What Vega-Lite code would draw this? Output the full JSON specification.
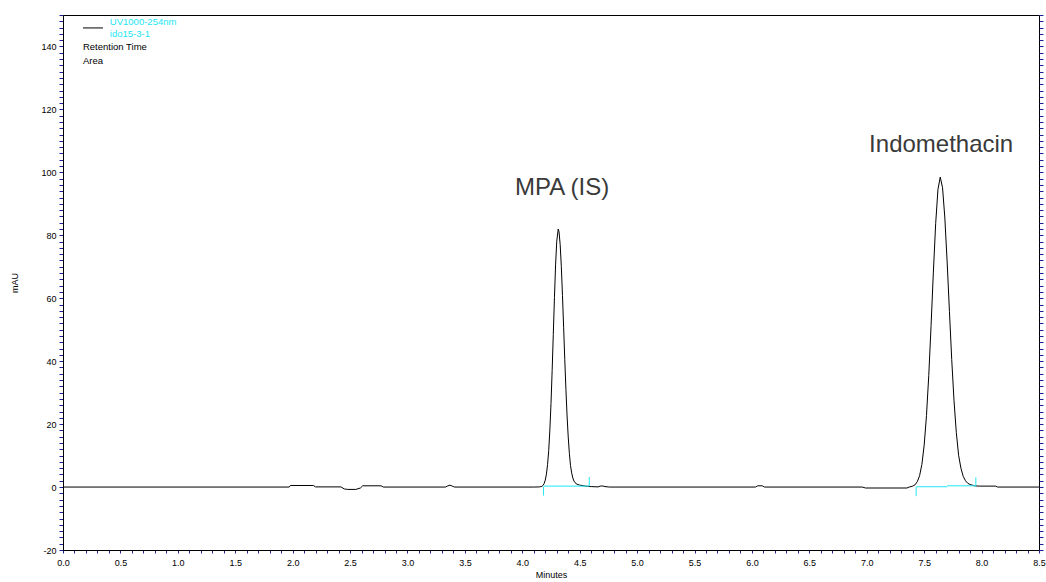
{
  "$schema": "https://vega.github.io/schema/vega-lite/v6.json",
  "width": 976,
  "height": 535,
  "autosize": "none",
  "padding": {"left": 63, "top": 15, "right": 7, "bottom": 32},
  "background": "white",
  "config": {"view": {"stroke": "black", "strokeWidth": 1}, "font": "Liberation Sans"},
  "datasets": {
    "trace": [
      {"t": 0, "v": 0}, {"t": 1.97, "v": 0}, {"t": 1.98, "v": 0.5}, {"t": 2.18, "v": 0.5}, {"t": 2.2, "v": 0.05},
      {"t": 2.42, "v": 0.05}, {"t": 2.45, "v": -0.6}, {"t": 2.48, "v": -0.75}, {"t": 2.55, "v": -0.75}, {"t": 2.59, "v": -0.3},
      {"t": 2.61, "v": 0.4}, {"t": 2.77, "v": 0.4}, {"t": 2.79, "v": 0}, {"t": 3.33, "v": 0}, {"t": 3.35, "v": 0.35},
      {"t": 3.37, "v": 0.6}, {"t": 3.39, "v": 0.3}, {"t": 3.41, "v": 0}, {"t": 4.1, "v": 0}, {"t": 4.15, "v": 0.05},
      {"t": 4.17, "v": 0.2}, {"t": 4.18, "v": 0.5}, {"t": 4.19, "v": 1.1}, {"t": 4.2, "v": 2.2}, {"t": 4.21, "v": 4.1},
      {"t": 4.22, "v": 7.1}, {"t": 4.23, "v": 11.6}, {"t": 4.24, "v": 18.1}, {"t": 4.25, "v": 26.6}, {"t": 4.26, "v": 37.0},
      {"t": 4.27, "v": 48.5}, {"t": 4.28, "v": 60.2}, {"t": 4.29, "v": 70.6}, {"t": 4.3, "v": 78.1}, {"t": 4.313, "v": 82.0},
      {"t": 4.32, "v": 81.1}, {"t": 4.33, "v": 77.0}, {"t": 4.34, "v": 70.0}, {"t": 4.35, "v": 60.9}, {"t": 4.36, "v": 50.8},
      {"t": 4.37, "v": 40.5}, {"t": 4.38, "v": 31.0}, {"t": 4.39, "v": 22.6}, {"t": 4.4, "v": 15.9}, {"t": 4.41, "v": 10.7},
      {"t": 4.42, "v": 6.8}, {"t": 4.43, "v": 4.5}, {"t": 4.44, "v": 2.9}, {"t": 4.45, "v": 1.9}, {"t": 4.47, "v": 1.0},
      {"t": 4.5, "v": 0.6}, {"t": 4.55, "v": 0.3}, {"t": 4.6, "v": 0.15}, {"t": 4.66, "v": 0.05}, {"t": 4.68, "v": 0.3},
      {"t": 4.7, "v": 0.35}, {"t": 4.72, "v": 0.15}, {"t": 4.76, "v": 0}, {"t": 6.03, "v": 0}, {"t": 6.05, "v": 0.4},
      {"t": 6.09, "v": 0.4}, {"t": 6.11, "v": 0}, {"t": 6.96, "v": 0}, {"t": 6.99, "v": -0.3}, {"t": 7.35, "v": -0.3},
      {"t": 7.37, "v": 0}, {"t": 7.4, "v": 0.3}, {"t": 7.42, "v": 0.7}, {"t": 7.44, "v": 1.7}, {"t": 7.46, "v": 3.6},
      {"t": 7.48, "v": 7.2}, {"t": 7.5, "v": 13.3}, {"t": 7.52, "v": 22.7}, {"t": 7.54, "v": 35.5}, {"t": 7.56, "v": 51.3},
      {"t": 7.58, "v": 68.3}, {"t": 7.6, "v": 83.7}, {"t": 7.62, "v": 94.6}, {"t": 7.64, "v": 98.5}, {"t": 7.66, "v": 95.1},
      {"t": 7.68, "v": 85.5}, {"t": 7.7, "v": 71.5}, {"t": 7.72, "v": 55.8}, {"t": 7.74, "v": 40.5}, {"t": 7.76, "v": 27.4},
      {"t": 7.78, "v": 17.3}, {"t": 7.8, "v": 10.1}, {"t": 7.82, "v": 6.0}, {"t": 7.84, "v": 3.4}, {"t": 7.86, "v": 2.0},
      {"t": 7.88, "v": 1.2}, {"t": 7.9, "v": 0.8}, {"t": 7.94, "v": 0.4}, {"t": 7.98, "v": 0.3}, {"t": 8.12, "v": 0.3},
      {"t": 8.14, "v": 0}, {"t": 8.5, "v": 0}
    ],
    "integ": [
      {"t1": 4.185, "t2": 4.583, "v1": 0.3, "v2": 0.3},
      {"t1": 4.185, "t2": 4.185, "v1": 0, "v2": -2.7},
      {"t1": 4.583, "t2": 4.583, "v1": 0.3, "v2": 3.2},
      {"t1": 7.43, "t2": 7.7, "v1": 0.1, "v2": 0.1},
      {"t1": 7.7, "t2": 7.95, "v1": 0.4, "v2": 0.4},
      {"t1": 7.43, "t2": 7.43, "v1": 0, "v2": -2.9},
      {"t1": 7.95, "t2": 7.95, "v1": 0.3, "v2": 3.1}
    ],
    "legline": [{"t1": 0.174, "t2": 0.348, "v": 145.9}],
    "legcyan": [
      {"t": 0.408, "v": 147.9, "label": "UV1000-254nm"},
      {"t": 0.408, "v": 144.1, "label": "ido15-3-1"}
    ],
    "legblack": [
      {"t": 0.174, "v": 139.8, "label": "Retention Time"},
      {"t": 0.174, "v": 135.4, "label": "Area"}
    ],
    "annot": [
      {"t": 4.346, "v": 95.0, "label": "MPA (IS)"},
      {"t": 7.648, "v": 108.8, "label": "Indomethacin"}
    ]
  },
  "layer": [
    {
      "data": {"name": "trace"},
      "mark": {"type": "line", "color": "black", "strokeWidth": 1},
      "encoding": {
        "x": {
          "field": "t", "type": "quantitative",
          "scale": {"domain": [0, 8.5], "nice": false, "zero": false},
          "axis": {
            "title": "Minutes",
            "values": [0,0.1,0.2,0.3,0.4,0.5,0.6,0.7,0.8,0.9,1,1.1,1.2,1.3,1.4,1.5,1.6,1.7,1.8,1.9,2,2.1,2.2,2.3,2.4,2.5,2.6,2.7,2.8,2.9,3,3.1,3.2,3.3,3.4,3.5,3.6,3.7,3.8,3.9,4,4.1,4.2,4.3,4.4,4.5,4.6,4.7,4.8,4.9,5,5.1,5.2,5.3,5.4,5.5,5.6,5.7,5.8,5.9,6,6.1,6.2,6.3,6.4,6.5,6.6,6.7,6.8,6.9,7,7.1,7.2,7.3,7.4,7.5,7.6,7.7,7.8,7.9,8,8.1,8.2,8.3,8.4,8.5],
            "labelExpr": "round(datum.value*10) % 5 === 0 ? format(datum.value, '.1f') : ''",
            "labelOverlap": false,
            "labelFlush": false,
            "labelBound": false,
            "labelFont": "Liberation Sans", "labelFontSize": 9, "labelColor": "black",
            "labelPadding": 5,
            "tickColor": "#1e1e96", "tickSize": 3,
            "domainColor": "black",
            "grid": false,
            "titleFont": "Liberation Sans", "titleFontSize": 9, "titleFontWeight": "normal", "titleColor": "black",
            "titlePadding": 3
          }
        },
        "y": {
          "field": "v", "type": "quantitative",
          "scale": {"domain": [-20, 150], "nice": false, "zero": false},
          "axis": {
            "title": "mAU",
            "values": [-20,-18,-16,-14,-12,-10,-8,-6,-4,-2,0,2,4,6,8,10,12,14,16,18,20,22,24,26,28,30,32,34,36,38,40,42,44,46,48,50,52,54,56,58,60,62,64,66,68,70,72,74,76,78,80,82,84,86,88,90,92,94,96,98,100,102,104,106,108,110,112,114,116,118,120,122,124,126,128,130,132,134,136,138,140,142,144,146,148,150],
            "labelExpr": "datum.value % 20 === 0 ? '' + datum.value : ''",
            "labelOverlap": false,
            "labelFlush": false,
            "labelBound": false,
            "labelFont": "Liberation Sans", "labelFontSize": 9, "labelColor": "black",
            "labelPadding": 3,
            "tickColor": "#1e1e96", "tickSize": 4,
            "domainColor": "black",
            "grid": false,
            "titleFont": "Liberation Sans", "titleFontSize": 9, "titleFontWeight": "normal", "titleColor": "black",
            "titlePadding": 21
          }
        }
      }
    },
    {
      "data": {"name": "integ"},
      "mark": {"type": "rule", "color": "#22e6f2", "strokeWidth": 1},
      "encoding": {
        "x": {"field": "t1", "type": "quantitative", "axis": null},
        "x2": {"field": "t2"},
        "y": {
          "field": "v1", "type": "quantitative",
          "axis": {
            "orient": "right",
            "title": null,
            "values": [-20,-18,-16,-14,-12,-10,-8,-6,-4,-2,0,2,4,6,8,10,12,14,16,18,20,22,24,26,28,30,32,34,36,38,40,42,44,46,48,50,52,54,56,58,60,62,64,66,68,70,72,74,76,78,80,82,84,86,88,90,92,94,96,98,100,102,104,106,108,110,112,114,116,118,120,122,124,126,128,130,132,134,136,138,140,142,144,146,148,150],
            "labels": false,
            "domain": false,
            "grid": false,
            "tickColor": "#1e1e96", "tickSize": 4
          }
        },
        "y2": {"field": "v2"}
      }
    },
    {
      "data": {"name": "legline"},
      "mark": {"type": "rule", "color": "#555555", "strokeWidth": 1.5},
      "encoding": {
        "x": {"field": "t1", "type": "quantitative", "axis": null},
        "x2": {"field": "t2"},
        "y": {"field": "v", "type": "quantitative", "axis": null}
      }
    },
    {
      "data": {"name": "legcyan"},
      "mark": {"type": "text", "color": "#22e6f2", "font": "Liberation Sans", "fontSize": 9.5, "align": "left", "baseline": "middle"},
      "encoding": {
        "x": {"field": "t", "type": "quantitative", "axis": null},
        "y": {"field": "v", "type": "quantitative", "axis": null},
        "text": {"field": "label"}
      }
    },
    {
      "data": {"name": "legblack"},
      "mark": {"type": "text", "color": "black", "font": "Liberation Sans", "fontSize": 9.5, "align": "left", "baseline": "middle"},
      "encoding": {
        "x": {"field": "t", "type": "quantitative", "axis": null},
        "y": {"field": "v", "type": "quantitative", "axis": null},
        "text": {"field": "label"}
      }
    },
    {
      "data": {"name": "annot"},
      "mark": {"type": "text", "color": "#3a3a3a", "font": "Liberation Sans", "fontSize": 24, "align": "center", "baseline": "middle"},
      "encoding": {
        "x": {"field": "t", "type": "quantitative", "axis": null},
        "y": {"field": "v", "type": "quantitative", "axis": null},
        "text": {"field": "label"}
      }
    }
  ],
  "resolve": {"axis": {"x": "independent", "y": "independent"}}
}
